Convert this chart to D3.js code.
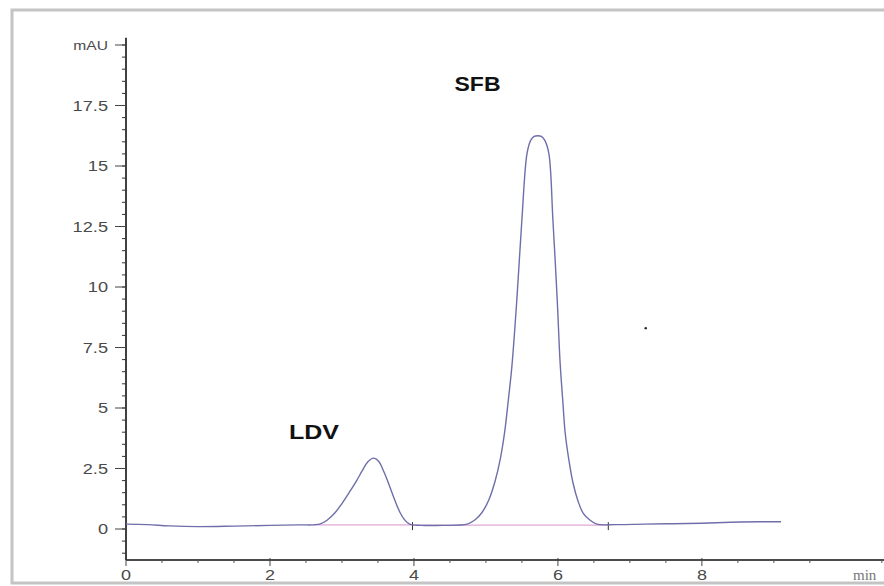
<!DOCTYPE html>
<html>
<head>
<meta charset="utf-8">
<script src="https://cdn.jsdelivr.net/npm/d3@7"></script>
<style>
  body { margin: 0; background: #fff; }
  svg { display: block; }
</style>
</head>
<body>
<div id="chart"></div>
<script>
// retention time (min) and detector signal (mAU)
var retentionTime = [0.00, 0.30, 0.60, 1.00, 1.50, 2.00, 2.40, 2.69, 2.80, 2.90, 3.00, 3.11, 3.20, 3.28, 3.36, 3.44,
  3.51, 3.57, 3.62, 3.67, 3.74, 3.81, 3.87, 3.94, 4.10, 4.40, 4.74, 4.85, 4.94, 5.04, 5.125, 5.20, 5.26, 5.31,
  5.36, 5.43, 5.50, 5.57, 5.62, 5.67, 5.72, 5.77, 5.82, 5.875, 5.93, 5.99, 6.03, 6.07, 6.10, 6.15, 6.21, 6.28,
  6.35, 6.44, 6.54, 6.80, 7.20, 7.60, 8.00, 8.40, 8.80, 9.10];
var absorbance = [0.20, 0.18, 0.13, 0.10, 0.12, 0.15, 0.17, 0.20, 0.38, 0.66, 1.05, 1.55, 1.98, 2.40, 2.78, 2.93,
  2.80, 2.45, 2.10, 1.70, 1.15, 0.66, 0.38, 0.20, 0.15, 0.15, 0.20, 0.38, 0.66, 1.20, 1.95, 2.90, 4.00, 5.30,
  6.70, 9.50, 12.80, 15.50, 16.05, 16.22, 16.25, 16.22, 16.05, 15.50, 12.80, 9.50, 6.90, 5.20, 4.00, 2.90, 1.90, 1.15,
  0.66, 0.38, 0.20, 0.18, 0.20, 0.22, 0.24, 0.28, 0.30, 0.30];

// integration baselines (start/end time, level)
var baselineStart = [2.60, 3.98];
var baselineEnd = [3.98, 6.70];
var baselineLevel = [0.17, 0.16];
var integrationMarks = [3.98, 6.70];

var peakNames = ["LDV", "SFB"];
var peakLabelTime = [2.25, 4.55];
var peakLabelValue = [3.7, 18.1];

var xTickValues = [0, 2, 4, 6, 8];
var yTickValues = [0, 2.5, 5, 7.5, 10, 12.5, 15, 17.5, 20];
var yTickLabels = ["0", "2.5", "5", "7.5", "10", "12.5", "15", "17.5", "mAU"];

var svgWidth = 884, svgHeight = 586;

var svg = d3.select("#chart").append("svg")
  .attr("width", svgWidth)
  .attr("height", svgHeight);

var x = d3.scaleLinear().domain([0, 10.53]).range([126, 884]);
var y = d3.scaleLinear().domain([0, 20]).range([529, 45]);

var axisY0 = 560;   // y pixel of the time axis
var tickFont = "Liberation Sans, Arial, sans-serif";

// y axis line and ticks
svg.append("line")
  .attr("x1", x(0)).attr("x2", x(0))
  .attr("y1", y(20.3)).attr("y2", axisY0)
  .attr("stroke", "#111").attr("stroke-width", 1.6);

var yMinor = d3.range(-1, 20.01, 0.5);
svg.append("g").selectAll("line")
  .data(yMinor)
  .enter().append("line")
  .attr("x1", x(0) - 4).attr("x2", x(0))
  .attr("y1", d => y(d)).attr("y2", d => y(d))
  .attr("stroke", "#333").attr("stroke-width", 1);

svg.append("g").selectAll("line")
  .data(yTickValues)
  .enter().append("line")
  .attr("x1", x(0) - 11).attr("x2", x(0))
  .attr("y1", d => y(d)).attr("y2", d => y(d))
  .attr("stroke", "#444").attr("stroke-width", 1);

svg.append("g").selectAll("text")
  .data(yTickValues)
  .enter().append("text")
  .attr("transform", d => `translate(${x(0) - 18}, ${y(d) + 5}) scale(1.3,1)`)
  .attr("text-anchor", "end")
  .attr("font-family", tickFont)
  .attr("font-size", (d, i) => i === yTickValues.length - 1 ? 12 : 14)
  .attr("fill", "#4a4a4a")
  .text((d, i) => yTickLabels[i]);

// x axis line and ticks
svg.append("line")
  .attr("x1", x(0)).attr("x2", svgWidth)
  .attr("y1", axisY0).attr("y2", axisY0)
  .attr("stroke", "#111").attr("stroke-width", 1.6);

var xMinor = d3.range(0.5, 10.51, 0.5).filter(d => d % 2 !== 0);
svg.append("g").selectAll("line")
  .data(xMinor)
  .enter().append("line")
  .attr("x1", d => x(d)).attr("x2", d => x(d))
  .attr("y1", axisY0).attr("y2", axisY0 + 3)
  .attr("stroke", "#555").attr("stroke-width", 1);

svg.append("g").selectAll("line")
  .data(xTickValues)
  .enter().append("line")
  .attr("x1", d => x(d)).attr("x2", d => x(d))
  .attr("y1", axisY0 - 2).attr("y2", axisY0 + 6)
  .attr("stroke", "#444").attr("stroke-width", 1);

svg.append("g").selectAll("text")
  .data(xTickValues)
  .enter().append("text")
  .attr("transform", d => `translate(${x(d)}, ${axisY0 + 20}) scale(1.2,1)`)
  .attr("text-anchor", "middle")
  .attr("font-family", tickFont)
  .attr("font-size", 15)
  .attr("fill", "#4a4a4a")
  .text(d => d);

svg.append("text")
  .attr("x", 853).attr("y", 580)
  .attr("font-family", "Liberation Serif, Times New Roman, serif")
  .attr("font-size", 15)
  .attr("fill", "#777")
  .text("min");

// integration baselines
svg.append("g").selectAll("line")
  .data(baselineStart)
  .enter().append("line")
  .attr("x1", d => x(d))
  .attr("x2", (d, i) => x(baselineEnd[i]))
  .attr("y1", (d, i) => y(baselineLevel[i]))
  .attr("y2", (d, i) => y(baselineLevel[i]))
  .attr("stroke", "#e0a8d8").attr("stroke-width", 1.3);

svg.append("g").selectAll("line")
  .data(integrationMarks)
  .enter().append("line")
  .attr("x1", d => x(d)).attr("x2", d => x(d))
  .attr("y1", y(0.16) - 3).attr("y2", y(0.16) + 5)
  .attr("stroke", "#333").attr("stroke-width", 1);

// chromatogram trace
var trace = retentionTime.map((t, i) => [t, absorbance[i]]);
var line = d3.line()
  .x(d => x(d[0]))
  .y(d => y(d[1]))
  .curve(d3.curveCatmullRom.alpha(0.5));

svg.append("path")
  .datum(trace)
  .attr("d", line)
  .attr("fill", "none")
  .attr("stroke", "#6e6eaa")
  .attr("stroke-width", 1.4);

// stray dot in the original
svg.append("circle")
  .attr("cx", x(7.22)).attr("cy", y(8.3))
  .attr("r", 1.2).attr("fill", "#222");

// peak labels
svg.append("g").selectAll("text")
  .data(peakNames)
  .enter().append("text")
  .attr("x", (d, i) => x(peakLabelTime[i]) + 1)
  .attr("y", (d, i) => y(peakLabelValue[i]))
  .attr("font-family", tickFont)
  .attr("font-weight", "bold")
  .attr("font-size", 20)
  .attr("textLength", (d, i) => i === 0 ? 50 : 46)
  .attr("lengthAdjust", "spacingAndGlyphs")
  .attr("fill", "#111")
  .text(d => d);

// outer frame
svg.append("rect")
  .attr("x", 12).attr("y", 10)
  .attr("width", svgWidth + 10).attr("height", 573)
  .attr("fill", "none")
  .attr("stroke", "#c4c4c4")
  .attr("stroke-width", 3);
</script>
</body>
</html>
